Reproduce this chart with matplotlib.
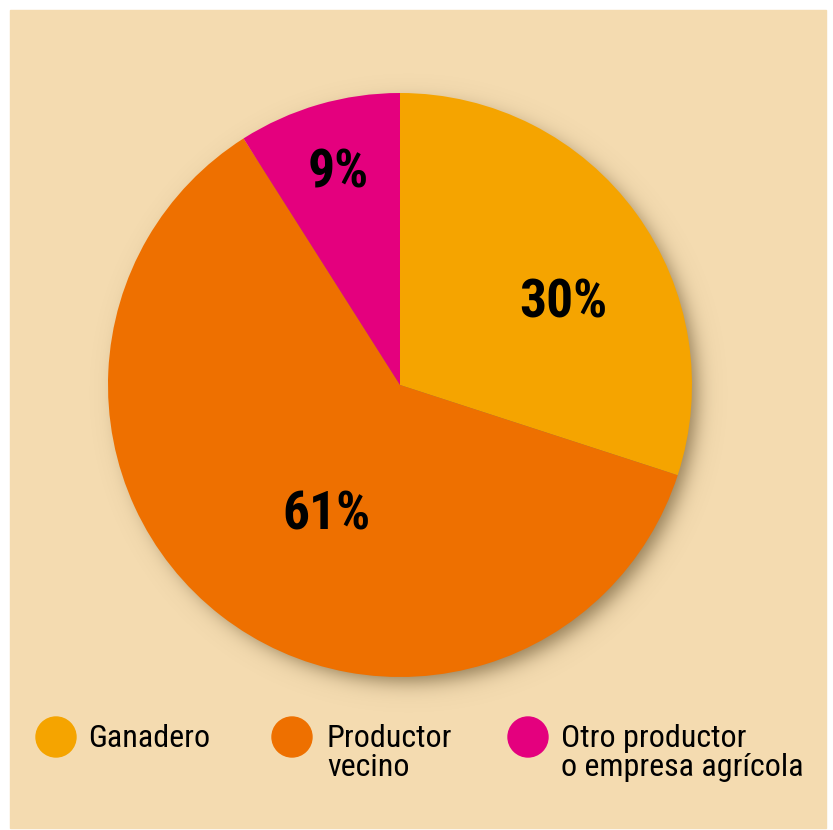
import numpy as np
import matplotlib
matplotlib.use('Agg')
from matplotlib import pyplot as plt
from matplotlib.patches import Rectangle, Ellipse
from matplotlib import font_manager

# data
categories = ['Ganadero', 'Productor\nvecino', 'Otro productor\no empresa agrícola']
values = [30, 61, 9]
labels = ['30%', '61%', '9%']
colors = ['#F5A400', '#EE7000', '#E4007E']

W, H = 833, 830
bg = '#F4DBB0'
cx, cy, r = 400, H - 385, 292

# pick a condensed face if one is installed
names = {f.name for f in font_manager.fontManager.ttflist}
cond = [n for n in ['Liberation Sans Narrow', 'Roboto Condensed', 'Open Sans Condensed',
                    'Noto Sans Condensed', 'DejaVu Sans Condensed'] if n in names]
font = cond + ['DejaVu Sans']

fig = plt.figure(figsize=(W / 100, H / 100), dpi=100)
ax = fig.add_axes([0, 0, 1, 1])

# background panel
ax.add_patch(Rectangle((10, 2), 816, H - 12, color=bg, zorder=0))

# soft shadow under the pie
yy, xx = np.mgrid[0:H, 0:W]
d = np.hypot(xx - (cx + 8), yy - (cy - 9))
a = 0.7 * 0.5 * (1 - np.tanh((d - r + 4) / 12))
img = np.zeros((H, W, 4))
img[..., 0] = 0.40
img[..., 1] = 0.32
img[..., 2] = 0.18
img[..., 3] = a
ax.imshow(img, extent=(0, W, 0, H), origin='lower', zorder=1)

# pie
wedges, _ = ax.pie(values, colors=colors, startangle=90, counterclock=False,
                   center=(cx, cy), radius=r, frame=True,
                   wedgeprops=dict(linewidth=0))
for w in wedges:
    w.set_zorder(2)
ax.set_xlim(0, W)
ax.set_ylim(0, H)
ax.set_aspect('equal')
ax.axis('off')

label_pos = [(563, 303), (327, 515), (338, 173)]
for lab, (x, y) in zip(labels, label_pos):
    ax.text(x, H - y, lab, ha='center', va='center', fontsize=38.5,
            fontweight='bold', fontstretch='condensed', family=font,
            color='black', zorder=3)

# legend
dot_x = [56, 292, 528]
text_x = [88, 327, 561]
for c, name, x, tx in zip(colors, categories, dot_x, text_x):
    ax.add_patch(Ellipse((x, H - 737), 40, 40, color=c, zorder=3))
    for i, line in enumerate(name.split('\n')):
        ax.text(tx, H - 747 - 29 * i, line, ha='left', va='baseline',
                fontsize=23, fontstretch='condensed', family=font,
                color='black', zorder=3)

fig.savefig('out.png', dpi=100, facecolor='white')
